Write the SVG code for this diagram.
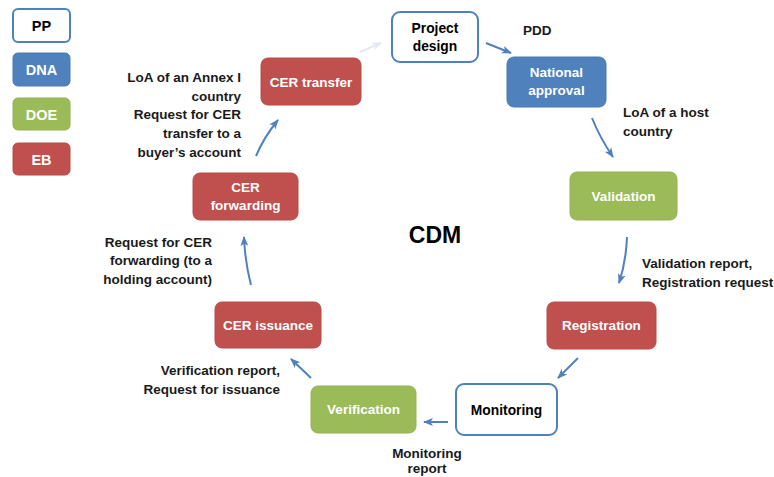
<svg xmlns="http://www.w3.org/2000/svg" width="774" height="477" viewBox="0 0 774 477">
<style>
text{font-family:"Liberation Sans",Arial,sans-serif;font-weight:bold;}
.nt{font-size:13.5px;fill:#fff;text-anchor:middle;}
.bt{font-size:13.8px;fill:#000;text-anchor:middle;}
.lg{font-size:14.5px;text-anchor:middle;}
.lb{font-size:13.5px;fill:#1a1a1a;}
.r{text-anchor:end;}
.m{text-anchor:middle;}
.pp{fill:#fff;stroke:#4f81bd;stroke-width:2;}
.dna{fill:#4f81bd;stroke:#4a7ab3;stroke-width:1;}
.doe{fill:#9bbb59;stroke:#93b254;stroke-width:1;}
.eb{fill:#c0504d;stroke:#b84c49;stroke-width:1;}
.c{fill:none;stroke:#4f81bd;stroke-width:2;marker-end:url(#ah);}
</style>
<defs>
<marker id="ah" markerUnits="userSpaceOnUse" markerWidth="10" markerHeight="10" viewBox="0 0 10 10" refX="9" refY="5" orient="auto">
<path d="M0,1 L10,5 L0,9 L2.5,5 Z" fill="#4f81bd"/>
</marker>
<marker id="ahf" markerUnits="userSpaceOnUse" markerWidth="10" markerHeight="10" viewBox="0 0 10 10" refX="9" refY="5" orient="auto">
<path d="M0,1 L10,5 L0,9 L2.5,5 Z" fill="#e4e8f0"/>
</marker>
</defs>
<rect width="774" height="477" fill="#fff"/>

<g id="legend">
<g id="legend-pp"><rect class="pp" x="13" y="9" width="57" height="33" rx="5"/><text class="lg" x="41.5" y="31" fill="#000">PP</text></g>
<g id="legend-dna"><rect class="dna" x="13" y="53" width="57" height="33" rx="5"/><text class="lg" x="41.5" y="75" fill="#fff">DNA</text></g>
<g id="legend-doe"><rect class="doe" x="13" y="98" width="57" height="32" rx="5"/><text class="lg" x="41.5" y="119.5" fill="#fff">DOE</text></g>
<g id="legend-eb"><rect class="eb" x="13" y="143" width="57" height="32" rx="5"/><text class="lg" x="41.5" y="164.5" fill="#fff">EB</text></g>
</g>

<g id="connectors">
<path d="M360,52 L381,43" fill="none" stroke="#e4e8f0" stroke-width="2" marker-end="url(#ahf)"/>
<path class="c" d="M486,43 L511,53"/>
<path class="c" d="M592,118 Q600,138 613,157"/>
<path class="c" d="M627,237 Q626,262 619,283"/>
<path class="c" d="M578,358 L558,378"/>
<path class="c" d="M448,422 L424,422"/>
<path class="c" d="M311,378 L291,359"/>
<path class="c" d="M251,285 Q245,262 244,237"/>
<path class="c" d="M256,156 Q264,137 278,120"/>
</g>

<g id="project-design"><rect class="pp" x="392" y="12" width="86" height="50" rx="8"/><text class="bt" x="435" y="33">Project</text><text class="bt" x="435" y="51">design</text></g>
<g id="national-approval"><rect class="dna" x="507" y="57" width="99" height="50" rx="7"/><text class="nt" x="556.5" y="77">National</text><text class="nt" x="556.5" y="95">approval</text></g>
<g id="validation"><rect class="doe" x="570" y="172" width="107" height="48" rx="7"/><text class="nt" x="623.5" y="201">Validation</text></g>
<g id="registration"><rect class="eb" x="547" y="302" width="109" height="47" rx="7"/><text class="nt" x="601.5" y="330">Registration</text></g>
<g id="monitoring"><rect class="pp" x="456" y="384" width="101" height="51" rx="8"/><text class="bt" x="506.5" y="415">Monitoring</text></g>
<g id="verification"><rect class="doe" x="311" y="386" width="105" height="47" rx="7"/><text class="nt" x="363.5" y="414">Verification</text></g>
<g id="cer-issuance"><rect class="eb" x="215" y="302" width="106" height="46" rx="7"/><text class="nt" x="268" y="330">CER issuance</text></g>
<g id="cer-forwarding"><rect class="eb" x="193" y="173" width="105" height="47" rx="7"/><text class="nt" x="245.5" y="192">CER</text><text class="nt" x="245.5" y="210">forwarding</text></g>
<g id="cer-transfer"><rect class="eb" x="261" y="58" width="100" height="47" rx="7"/><text class="nt" x="311" y="87">CER transfer</text></g>

<g id="labels">
<text class="lb" x="523" y="35">PDD</text>
<text class="lb" x="623" y="117">LoA of a host</text>
<text class="lb" x="623" y="136">country</text>
<text class="lb" x="642" y="268">Validation report,</text>
<text class="lb" x="642" y="287">Registration request</text>
<text class="lb m" x="427" y="458">Monitoring</text>
<text class="lb m" x="427" y="473">report</text>
<text class="lb r" x="280" y="375">Verification report,</text>
<text class="lb r" x="280" y="394">Request for issuance</text>
<text class="lb r" x="212" y="247">Request for CER</text>
<text class="lb r" x="212" y="265">forwarding (to a</text>
<text class="lb r" x="212" y="284">holding account)</text>
<text class="lb r" x="241" y="82">LoA of an Annex I</text>
<text class="lb r" x="241" y="101">country</text>
<text class="lb r" x="241" y="119">Request for CER</text>
<text class="lb r" x="241" y="138">transfer to a</text>
<text class="lb r" x="241" y="157">buyer’s account</text>
<text x="435" y="243" font-size="23" text-anchor="middle" fill="#000">CDM</text>
</g>
</svg>
